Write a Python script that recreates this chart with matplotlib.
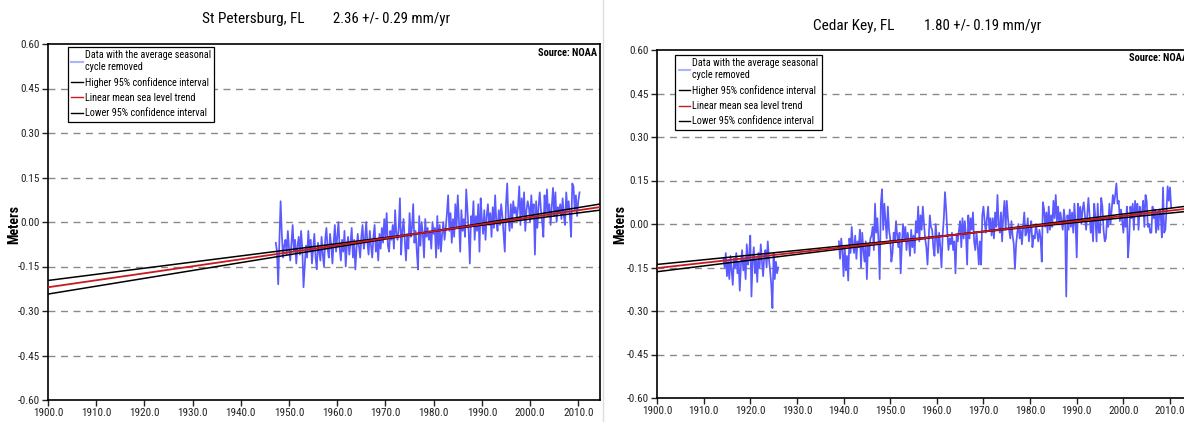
import matplotlib
matplotlib.use("Agg")
import matplotlib.pyplot as plt
import numpy as np
from matplotlib import font_manager
from matplotlib.lines import Line2D

# ---- pick a narrow sans font if one is installed ----
entries = font_manager.fontManager.ttflist
names = {f.name for f in entries}
FONT, STRETCH, SCALE = 'Liberation Sans', 'normal', 0.9
for cand in ['Liberation Sans Narrow', 'Roboto Condensed', 'Open Sans Condensed', 'Arial Narrow']:
    if cand in names:
        FONT, STRETCH, SCALE = cand, 'normal', 1.0
        break
else:
    if any(f.name == 'DejaVu Sans' and f.stretch in ('condensed', 'semi-condensed') for f in entries):
        FONT, STRETCH, SCALE = 'DejaVu Sans', 'condensed', 0.93
plt.rcParams['font.family'] = [FONT, 'DejaVu Sans']
plt.rcParams['font.stretch'] = STRETCH

def fs(v):
    return v * SCALE

# ---------------- data (meters, quarterly samples) ----------------
stp_title = "St Petersburg, FL"
stp_rate_text = "2.36 +/- 0.29 mm/yr"
stp_rate = 2.36          # mm/yr
stp_ci = 0.29            # mm/yr
stp_trend_1900 = -0.22   # m, trend value at 1900
stp_pivot = 1979.0
stp_start = 1947.25
stp_values = [
    -0.07, -0.10, -0.21, -0.06,
    0.07, -0.04, -0.12, -0.08,
    -0.06, -0.11, -0.03, -0.09,
    -0.13, -0.07, -0.01, -0.10,
    -0.06, -0.14, -0.08, -0.05,
    -0.11, -0.03, -0.09, -0.22,
    -0.15, -0.08, -0.12, -0.03,
    -0.10, -0.06, -0.14, -0.09,
    -0.04, -0.12, -0.16, -0.07,
    -0.10, -0.13, -0.05, -0.11,
    -0.15, -0.06, -0.02, -0.09,
    -0.12, -0.04, -0.08, -0.14,
    -0.07, -0.01, -0.10, -0.05,
    0.00, -0.09, -0.13, -0.06,
    -0.10, -0.03, -0.15, -0.08,
    -0.05, -0.11, -0.07, -0.02,
    -0.12, -0.06, -0.16, -0.09,
    -0.04, -0.08, -0.12, -0.05,
    -0.01, -0.09, -0.06, 0.00,
    -0.07, -0.11, -0.03, -0.08,
    -0.12, -0.05, -0.01, -0.10,
    -0.06, -0.13, -0.04, -0.09,
    -0.02, -0.07, 0.01, -0.05,
    0.03, -0.08, -0.10, -0.03,
    -0.06, -0.01, -0.09, 0.04,
    -0.04, -0.06, -0.02, 0.08,
    -0.11, -0.03, 0.01, -0.06,
    -0.13, -0.04, -0.09, 0.03,
    -0.05, -0.02, 0.06, -0.07,
    -0.03, -0.10, -0.16, 0.02,
    -0.08, 0.00, -0.04, -0.12,
    0.01, -0.05, -0.02, -0.06,
    -0.03, -0.09, 0.00, -0.04,
    -0.02, -0.12, 0.02, -0.09,
    -0.01, -0.10, -0.04, 0.00,
    -0.06, -0.02, 0.03, 0.09,
    -0.03, 0.03, -0.07, 0.01,
    -0.05, 0.06, -0.02, 0.09,
    0.00, -0.10, 0.04, -0.03,
    0.01, -0.05, 0.11, 0.04,
    -0.03, -0.14, 0.02, -0.01,
    0.07, -0.06, 0.02, -0.03,
    0.06, -0.10, 0.08, 0.01,
    -0.04, 0.04, -0.06, 0.02,
    0.06, -0.01, 0.03, -0.05,
    0.05, -0.02, 0.09, 0.00,
    -0.03, 0.04, -0.01, 0.06,
    0.02, -0.04, -0.10, 0.06,
    0.13, 0.01, -0.03, 0.06,
    -0.02, 0.07, 0.03, 0.05,
    0.01, 0.05, 0.12, -0.01,
    0.08, 0.02, 0.10, -0.03,
    0.04, 0.07, 0.05, 0.00,
    0.09, 0.02, 0.06, -0.11,
    0.07, -0.02, 0.05, 0.10,
    0.04, 0.00, -0.05, 0.09,
    0.03, 0.11, 0.02, 0.06,
    -0.01, 0.05, 0.115, 0.02,
    0.10, 0.00, 0.05, 0.03,
    0.06, 0.01, 0.08, 0.02,
    -0.01, 0.10, 0.04, 0.07,
    0.02, -0.05, 0.13, 0.12,
    0.04, 0.09, 0.02, 0.07,
    0.10,
]

ck_title = "Cedar Key, FL"
ck_rate_text = "1.80 +/- 0.19 mm/yr"
ck_rate = 1.80
ck_ci = 0.19
ck_trend_1900 = -0.152
ck_pivot = 1966.0
ck_start1 = 1914.25
ck_values1 = [
    -0.12, -0.15, -0.10, -0.18,
    -0.13, -0.19, -0.11, -0.16,
    -0.21, -0.12, -0.15, -0.10,
    -0.17, -0.13, -0.23, -0.14,
    -0.09, -0.16, -0.12, -0.19,
    -0.07, -0.14, -0.11, -0.04,
    -0.25, -0.13, -0.08, -0.17,
    -0.12, -0.20, -0.10, -0.15,
    -0.07, -0.13, -0.18, -0.11,
    -0.09, -0.15, -0.06, -0.12,
    -0.16, -0.21, -0.29, -0.10,
    -0.19, -0.13, -0.17, -0.15,
]
ck_start2 = 1939.0
ck_values2 = [
    -0.06, -0.12, -0.05, -0.09,
    -0.18, -0.08, -0.16, -0.11,
    -0.195, -0.05, -0.10, -0.01,
    -0.07, -0.10, -0.04, -0.12,
    -0.06, -0.08, -0.02, -0.15,
    -0.03, -0.09, -0.13, -0.06,
    -0.19, -0.07, -0.11, -0.05,
    -0.04, -0.01, -0.09, 0.07,
    -0.03, 0.02, -0.06, -0.19,
    0.07, 0.12, -0.02, 0.07,
    0.01, -0.05, 0.06, -0.02,
    -0.05, -0.13, -0.10, -0.03,
    -0.06, 0.01, -0.04, -0.08,
    -0.03, -0.17, -0.07, 0.00,
    -0.05, -0.01, -0.09, -0.03,
    -0.06, -0.11, -0.02, -0.08,
    -0.04, -0.10, 0.01, -0.03,
    0.06, -0.06, 0.03, -0.02,
    0.06, 0.00, -0.05, -0.08,
    -0.14, -0.05, 0.03, -0.01,
    -0.02, -0.08, -0.11, 0.00,
    -0.05, -0.10, -0.03, -0.08,
    -0.15, -0.04, 0.02, 0.11,
    0.05, -0.03, -0.09, -0.05,
    -0.07, -0.03, -0.09, -0.06,
    -0.17, -0.04, -0.06, -0.02,
    0.01, -0.08, 0.02, -0.05,
    0.01, -0.04, -0.14, 0.03,
    -0.05, 0.02, -0.02, 0.04,
    -0.06, -0.09, -0.03, -0.07,
    -0.14, -0.06, -0.14, 0.03,
    0.06, 0.01, -0.03, 0.02,
    0.06, -0.02, 0.02, -0.04,
    0.02, -0.05, 0.04, -0.01,
    0.10, 0.00, -0.03, 0.04,
    -0.06, 0.03, 0.08, -0.02,
    0.08, 0.02, -0.02, -0.05,
    0.01, -0.04, -0.07, -0.155,
    -0.07, -0.03, 0.00, -0.05,
    -0.02, -0.07, -0.01, 0.04,
    -0.04, -0.03, 0.02, -0.06,
    -0.02, 0.01, -0.08, -0.04,
    -0.05, 0.00, -0.03, -0.06,
    -0.02, -0.05, -0.13, 0.075,
    0.05, -0.01, 0.04, -0.03,
    0.06, -0.02, 0.03, -0.01,
    0.08, 0.02, 0.10, 0.01,
    0.06, 0.00, 0.04, 0.01,
    -0.02, 0.05, 0.01, -0.25,
    0.03, -0.02, 0.05, -0.01,
    0.04, -0.03, 0.07, 0.00,
    -0.115, 0.07, 0.02, 0.06,
    0.00, 0.05, 0.075, 0.03,
    -0.02, 0.03, 0.09, 0.03,
    -0.03, 0.01, -0.06, 0.07,
    0.02, -0.06, 0.07, -0.03,
    -0.03, 0.09, 0.06, -0.02,
    -0.06, -0.05, 0.02, -0.01,
    0.07, 0.00, 0.05, 0.10,
    0.07, 0.10, 0.14, 0.07,
    0.08, 0.01, 0.05, 0.01,
    -0.03, 0.03, -0.01, 0.06,
    -0.115, -0.05, 0.06, 0.02,
    0.07, -0.02, 0.08, 0.03,
    0.07, -0.02, 0.06, 0.03,
    0.04, 0.08, -0.01, 0.10,
    0.08, -0.01, 0.00, -0.03,
    -0.03, 0.06, 0.02, 0.05,
    -0.03, 0.04, -0.02, 0.05,
    0.03, -0.046, 0.126, -0.03,
    -0.02, 0.05, 0.13, 0.08,
    0.126, 0.057,
]

y_ticks = [-0.60, -0.45, -0.30, -0.15, 0.00, 0.15, 0.30, 0.45, 0.60]
x_ticks = [1900, 1910, 1920, 1930, 1940, 1950, 1960, 1970, 1980, 1990, 2000, 2010]
legend_labels = ["Data with the average seasonal\ncycle removed",
                 "Higher 95% confidence interval",
                 "Linear mean sea level trend",
                 "Lower 95% confidence interval"]

BLUE = '#5a5aff'
RED = '#c8191e'
W, H = 1184, 422
fig = plt.figure(figsize=(W / 100, H / 100), dpi=100)

def px_axes(l, r, t, b):
    return fig.add_axes([l / W, 1 - b / H, (r - l) / W, (b - t) / H])

def panel(ax, segments, rate, ci, base, pivot, leg_anchor):
    for start, vals in segments:
        t = start + 0.25 * np.arange(len(vals))
        ax.plot(t, vals, color=BLUE, lw=1.25, zorder=2)
    x = np.array([1900.0, 2014.5])
    trend = base + rate / 1000 * (x - 1900)
    pv = base + rate / 1000 * (pivot - 1900)
    hi = pv + (rate - ci) / 1000 * (x - pivot)
    lo = pv + (rate + ci) / 1000 * (x - pivot)
    ax.plot(x, hi, color='black', lw=1.1, zorder=3)
    ax.plot(x, lo, color='black', lw=1.1, zorder=3)
    ax.plot(x, trend, color=RED, lw=1.3, zorder=4)
    ax.set_xlim(1900, 2014.5)
    ax.set_ylim(-0.60, 0.60)
    ax.set_yticks(y_ticks)
    ax.set_yticklabels([f"{v:.2f}" for v in y_ticks])
    ax.set_xticks(x_ticks)
    ax.set_xticklabels([f"{v:.1f}" for v in x_ticks])
    ax.tick_params(axis='both', direction='out', length=4, width=1, labelsize=fs(8), pad=2, colors='#222222')
    for yv in y_ticks[1:-1]:
        ax.axhline(yv, color='#8a8a8a', lw=1.0, ls=(0, (5, 4)), zorder=1)
    for s in ax.spines.values():
        s.set_color('black')
        s.set_linewidth(1.2)
    ax.text(0.995, 0.99, "Source: NOAA", transform=ax.transAxes, ha='right', va='top',
            fontsize=fs(7.5), fontweight='bold')
    handles = [Line2D([], [], color='#aab4ff', lw=1.5),
               Line2D([], [], color='black', lw=1.0),
               Line2D([], [], color=RED, lw=1.0),
               Line2D([], [], color='black', lw=1.0)]
    leg = ax.legend(handles, legend_labels, loc='upper left', bbox_to_anchor=leg_anchor,
                    fontsize=fs(7.3), frameon=True, fancybox=False, framealpha=1, edgecolor='black',
                    handlelength=1.1, handletextpad=0.2, borderpad=0.35, labelspacing=0.5,
                    borderaxespad=0)
    leg.get_frame().set_linewidth(0.9)

# left panel
ax1 = px_axes(48, 600, 44, 400)
panel(ax1, [(stp_start, stp_values)], stp_rate, stp_ci, stp_trend_1900, stp_pivot, (0.036, 0.992))
# right panel (cropped on the right side as in the source)
ax2 = px_axes(657, 1191, 50, 398)
panel(ax2, [(ck_start1, ck_values1), (ck_start2, ck_values2)], ck_rate, ck_ci, ck_trend_1900, ck_pivot, (0.034, 0.986))

# titles
fig.text(304 / W, 1 - 19 / H, stp_title, ha='right', va='center', fontsize=fs(11))
fig.text(333 / W, 1 - 19 / H, stp_rate_text, ha='left', va='center', fontsize=fs(10.6))
fig.text(894 / W, 1 - 26 / H, ck_title, ha='right', va='center', fontsize=fs(11))
fig.text(924 / W, 1 - 26 / H, ck_rate_text, ha='left', va='center', fontsize=fs(10.6))

# y labels
fig.text(14 / W, 1 - 224 / H, "Meters", rotation=90, ha='center', va='center', fontsize=fs(10), fontweight='bold')
fig.text(620 / W, 1 - 224 / H, "Meters", rotation=90, ha='center', va='center', fontsize=fs(10), fontweight='bold')

# thin separator between the two images
fig.add_artist(Line2D([603 / W, 603 / W], [0.0, 1.0], color='#dddddd', lw=1.0, transform=fig.transFigure))

fig.savefig("out.png", dpi=100)
